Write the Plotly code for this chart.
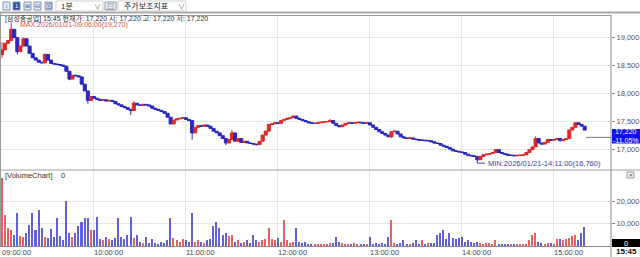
import plotly.graph_objects as go
from datetime import datetime, timedelta

# ---------------- DATA ----------------
SESSION_START = "2026-01-21 09:00:00"
BIN_MINUTES = 2
FIRST_OPEN = 18700

closes = [
    18780, 18900, 18950, 19150, 19000, 18750, 18850, 18980, 18850, 18720,
    18640, 18600, 18560, 18550, 18700, 18600, 18540, 18530, 18520, 18510,
    18490, 18400, 18260, 18330, 18320, 18300, 18170, 18050, 17880, 17950,
    17920, 17900, 17880, 17890, 17870, 17880, 17860, 17820, 17800, 17770,
    17750, 17720, 17700, 17830, 17800, 17790, 17810, 17800, 17780, 17740,
    17720, 17700, 17680, 17650, 17580, 17460, 17530, 17550, 17560, 17570,
    17540, 17520, 17300, 17400, 17430, 17420, 17440, 17420, 17380, 17330,
    17300, 17250, 17200, 17120, 17180, 17300, 17150, 17200, 17130, 17150,
    17120, 17110, 17100, 17090, 17150, 17260, 17330, 17450, 17460, 17480,
    17470, 17520, 17540, 17560, 17570, 17600, 17560, 17540, 17520, 17500,
    17480, 17470, 17470, 17480, 17490, 17500, 17500, 17520, 17470, 17430,
    17410, 17440, 17470, 17480, 17470, 17480, 17490, 17480, 17470, 17480,
    17440, 17400, 17360, 17320, 17290, 17260, 17230, 17320, 17330, 17280,
    17230, 17210, 17200, 17210, 17190, 17180, 17170, 17170, 17160, 17160,
    17140, 17120, 17110, 17080, 17060, 17040, 17010, 16980, 16970, 16960,
    16950, 16920, 16900, 16890, 16880, 16820, 16880, 16910, 16920, 16930,
    16950, 17000, 16950, 16930, 16920, 16900, 16900, 16890, 16900, 16900,
    16910, 16950, 17000, 17050, 17200, 17120, 17100, 17130, 17180, 17170,
    17180, 17200, 17160, 17180, 17200, 17350, 17400, 17480, 17450, 17420,
    17350,
]

wick_highs = {0: 18920, 3: 19270, 7: 19000, 14: 18720, 43: 17870, 75: 17350,
              95: 17610, 107: 17550, 128: 17350, 174: 17240, 187: 17490}
wick_lows = {0: 18640, 5: 18700, 22: 18240, 28: 17820, 42: 17620, 62: 17180,
             73: 17080, 83: 17080, 127: 17210, 155: 16760}

volumes = [
    30300, 13700, 7900, 7000, 5000, 14600, 4500, 4000, 5800, 9200,
    14600, 7000, 16000, 8200, 4000, 3500, 7500, 4000, 12400, 4500,
    2500, 20000, 6000, 4000, 5800, 9000, 10600, 12400, 12400, 7000,
    7000, 13000, 3000, 2500, 4000, 3000, 2500, 3500, 12400, 4000,
    3000, 5000, 13000, 3500, 5000, 2000, 1500, 4000, 1500, 3000,
    1500, 1000, 2000, 1500, 2500, 12400, 3500, 2500, 2000, 3000,
    2500, 2000, 15000, 2000, 2500, 2000, 1500, 2500, 3000, 9000,
    10600, 8000, 5000, 6000, 4500, 5000, 2000, 2500, 1500, 2000,
    2500, 1500, 5000, 2500, 2000, 2500, 3000, 8000, 3000, 2500,
    3500, 2000, 11500, 2500, 1500, 2000, 8000, 2000, 1500, 2000,
    1000, 800, 600, 800, 1000, 700, 900, 1200, 1500, 4000,
    2000, 1500, 1000, 800, 1000, 1200, 900, 1000, 1100, 800,
    4000, 1000, 1200, 900, 1500, 1000, 4000, 11500, 1500, 1000,
    1200, 2500, 1000, 800, 1200, 2500, 1000, 2500, 1000, 1500,
    1200, 1500, 5000, 6000, 7000, 3000, 6000, 3500, 3000, 3500,
    4000, 2000, 2500, 2000, 1500, 2000, 1200, 1000, 1500, 1200,
    1000, 2500, 1000, 800, 700, 900, 600, 800, 700, 900,
    800, 1000, 2500, 5000, 6000, 2000, 1200, 1000, 1500, 1200,
    1000, 3000, 3000, 2500, 3000, 3500, 4500, 5000, 2500, 6000,
    8300,
]

CURRENT_PRICE = 17220
CHANGE_PCT = "-11.05%"
CURRENT_VOLUME = 0
STOCK_NAME = "[삼성중공업]"
LAST_TIME = "15:45"
price_ticks = [17000, 17500, 18000, 18500, 19000]
volume_ticks = [10000, 20000]

# ---------------- DERIVED ----------------
t0 = datetime.strptime(SESSION_START, "%Y-%m-%d %H:%M:%S")
times = [t0 + timedelta(minutes=BIN_MINUTES * i) for i in range(len(closes))]
opens = [FIRST_OPEN] + closes[:-1]
highs = [max(o, c, wick_highs.get(i, 0)) for i, (o, c) in enumerate(zip(opens, closes))]
lows = [min(o, c, wick_lows.get(i, 10 ** 9)) for i, (o, c) in enumerate(zip(opens, closes))]

RED = "#e02828"
BLUE = "#2828c0"
VRED = "#e23a3a"
VBLUE = "#3a3ad0"
vol_colors = [VRED if c >= o else VBLUE for o, c in zip(opens, closes)]

imax = max(range(len(highs)), key=lambda i: highs[i])
imin = min(range(len(lows)), key=lambda i: lows[i])

W, H = 640, 257
def PX(x):
    return x / W
def PY(y):
    return 1 - y / H

FONT = "Liberation Sans, Noto Sans CJK KR, sans-serif"

fig = go.Figure()
fig.add_trace(go.Candlestick(
    x=times, open=opens, high=highs, low=lows, close=closes,
    increasing=dict(line=dict(color=RED, width=1), fillcolor=RED),
    decreasing=dict(line=dict(color=BLUE, width=1), fillcolor=BLUE),
    whiskerwidth=0, xaxis="x", yaxis="y", showlegend=False, hoverinfo="skip",
))
fig.add_trace(go.Bar(
    x=times, y=volumes, marker=dict(color=vol_colors, line=dict(width=0)),
    opacity=0.8, width=BIN_MINUTES * 60 * 1000 * 0.5,
    xaxis="x2", yaxis="y2", showlegend=False, hoverinfo="skip",
))

x_left = t0 - timedelta(seconds=39)
x_right = t0 + timedelta(seconds=23831)
x_dom = [PX(1), PX(611)]

common_x = dict(
    type="date", range=[x_left, x_right], domain=x_dom,
    showgrid=True, gridcolor="#e6e6e6", gridwidth=1,
    dtick=3600000, tick0=SESSION_START, zeroline=False, showline=False,
    rangeslider=dict(visible=False),
)
fig.update_layout(
    width=W, height=H, margin=dict(l=0, r=0, t=0, b=0),
    paper_bgcolor="white", plot_bgcolor="white",
    font=dict(family=FONT, size=8, color="#444"),
    bargap=0, boxgap=0, boxgroupgap=0,
    xaxis=dict(common_x, anchor="y", showticklabels=False),
    xaxis2=dict(common_x, anchor="y2", matches="x", showticklabels=True,
                tickformat="%H:%M:%S", ticklabelposition="outside right",
                ticks="", tickfont=dict(size=7.5, color="#444")),
    yaxis=dict(domain=[PY(169), PY(16)], range=[16655, 19387], side="right",
               anchor="x", tickvals=price_ticks, tickformat=",",
               ticks="outside", ticklen=3, tickcolor="#888",
               tickfont=dict(size=7.5, color="#555"),
               showgrid=True, gridcolor="#e6e6e6", zeroline=False),
    yaxis2=dict(domain=[PY(246), PY(171)], range=[0, 33630], side="right",
                anchor="x2", tickvals=volume_ticks, tickformat=",",
                ticks="outside", ticklen=3, tickcolor="#888",
                tickfont=dict(size=7.5, color="#555"),
                showgrid=True, gridcolor="#e6e6e6", zeroline=False),
)

shapes = []
def line(x0, y0, x1, y1, color="#999", width=1):
    shapes.append(dict(type="line", xref="paper", yref="paper",
                       x0=PX(x0), y0=PY(y0), x1=PX(x1), y1=PY(y1),
                       line=dict(color=color, width=width)))
def rect(x0, y0, x1, y1, fill, border=None, width=1):
    shapes.append(dict(type="rect", xref="paper", yref="paper",
                       x0=PX(x0), y0=PY(y0), x1=PX(x1), y1=PY(y1),
                       fillcolor=fill, line=dict(color=border or fill, width=width if border else 0)))

# frame
line(0, 12.5, 640, 12.5, "#a8a8a8", 2)
line(0, 15.5, 611, 15.5, "#9a9a9a", 1)
line(0.5, 12, 0.5, 247, "#9a9a9a", 1)
line(611, 15, 611, 257, "#8a8a8a", 1)
line(0, 170, 640, 170, "#a0a0a0", 1)
line(0, 246.5, 611, 246.5, "#8a8a8a", 1)

# toolbar
icons = [(3, 10), (13, 20), (24, 31), (34, 41), (45, 52)]
for k, (a, b) in enumerate(icons):
    rect(a, 2, b, 10, "#2d4e9a" if k == 1 else "#e4eaf5", "#7f93b8")
rect(56, 1, 103, 11, "white", "#cfcfcf")
rect(105, 2, 116, 10, "#eef1f6", "#8a96aa")
rect(118, 1, 186, 11, "white", "#cfcfcf")

# current price guide
shapes.append(dict(type="line", xref="paper", yref="y", x0=PX(586), x1=PX(611),
                   y0=CURRENT_PRICE, y1=CURRENT_PRICE, line=dict(color="#777", width=1)))
# min label leader
shapes.append(dict(type="line", xref="x", yref="y", x0=times[imin], x1=times[imin] + timedelta(minutes=5),
                   y0=lows[imin], y1=lows[imin], line=dict(color="#3344aa", width=1)))

# price box and volume box
rect(612, 129, 640, 143.5, "#1010f0")
rect(612, 239, 640, 247, "#000000")
# close icon in volume panel
rect(627, 172, 634, 178, "#f0f0f0", "#999")

fig.update_layout(shapes=shapes)

ann = []
def text(x, y, s, size=7.5, color="#333", xanchor="left", yanchor="middle", bold=False):
    ann.append(dict(xref="paper", yref="paper", x=PX(x), y=PY(y), text=("<b>%s</b>" % s) if bold else s,
                    showarrow=False, xanchor=xanchor, yanchor=yanchor,
                    font=dict(size=size, color=color, family=FONT)))

glyphs = ["↕", "1", "⊞", "⊟", "⊠"]
for k, (a, b) in enumerate(icons):
    text((a + b) / 2, 6, glyphs[k], 6, "white" if k == 1 else "#2d4e9a", "center")
text(59, 6, "1분", 8, "#222")
text(97, 6, "∨", 7, "#666", "center")
text(110.5, 6, "▤", 7, "#445", "center")
text(122, 6, "주가보조지표", 8, "#222")
text(181, 6, "∨", 7, "#666", "center")

# max label (sits under the title line, as in the source)
ann.append(dict(xref="x", yref="y", x=times[imax], y=highs[imax], xanchor="left", yanchor="middle",
                xshift=7, yshift=-2, showarrow=False,
                text="MAX:%s(%s)" % ((t0 + timedelta(minutes=6)).strftime("%Y/%m/%d-%H:%M:%S"), format(highs[imax], ",")),
                font=dict(size=7, color="#d85050", family=FONT)))
text(3, 18.5, "%s %s 현재가: %s 시: %s 고: %s 저: %s" % (
    STOCK_NAME, LAST_TIME, format(CURRENT_PRICE, ","), format(CURRENT_PRICE, ","),
    format(CURRENT_PRICE, ","), format(CURRENT_PRICE, ",")), 7, "#333")
ann.append(dict(xref="x", yref="y", x=times[imin], y=lows[imin], xanchor="left", yanchor="middle",
                xshift=9, showarrow=False,
                text="MIN:%s(%s)" % ((t0 + timedelta(minutes=311)).strftime("%Y/%m/%d-%H:%M:%S"), format(lows[imin], ",")),
                font=dict(size=7.5, color="#3344aa", family=FONT)))

text(3, 175, "[VolumeChart]", 7.5, "#333")
text(59, 175, str(CURRENT_VOLUME), 7.5, "#333")
text(626, 136.3, "%s<br>%s" % (format(CURRENT_PRICE, ","), CHANGE_PCT), 7, "white", "center")
text(626, 243, str(CURRENT_VOLUME), 7.5, "white", "center")
text(626, 251.5, LAST_TIME, 8, "#111", "center", bold=True)
text(630.5, 175, "×", 6, "#444", "center")

fig.update_layout(annotations=ann)
fig.write_html("out.html")
